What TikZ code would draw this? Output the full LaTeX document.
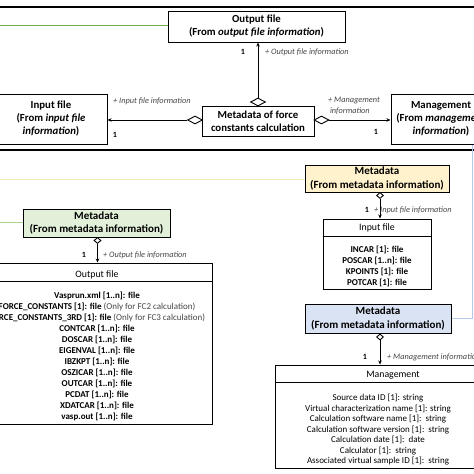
\documentclass[tikz,border=0pt]{standalone}
\usepackage{fontspec}
\setmainfont{Carlito}
\usetikzlibrary{shapes.geometric,arrows.meta}
\definecolor{greenfill}{RGB}{226,239,217}
\definecolor{yellowfill}{RGB}{255,242,204}
\definecolor{bluefill}{RGB}{218,227,243}
\definecolor{greenline}{RGB}{112,173,71}
\definecolor{greenline2}{RGB}{169,209,142}
\definecolor{yellowline}{RGB}{238,236,185}
\definecolor{blueline}{RGB}{180,199,231}
\definecolor{lblgray}{RGB}{70,70,70}
\begin{document}
\begin{tikzpicture}[x=1pt,y=-1pt,
  box/.style={draw, line width=1pt, fill=white, inner sep=1pt, align=center},
  big/.style={font=\fontsize{10.8}{13}\selectfont\bfseries},
  metabig/.style={font=\fontsize{11}{13.5}\selectfont\bfseries},
  hdr/.style={font=\fontsize{9.8}{11}\selectfont, inner sep=0pt, anchor=base},
  itemb/.style={font=\fontsize{9}{11}\selectfont\bfseries, inner sep=0pt, anchor=base},
  itemr/.style={font=\fontsize{9}{11}\selectfont, inner sep=0pt, anchor=base},
  lbl/.style={font=\fontsize{8.3}{10}\selectfont\itshape, text=lblgray, inner sep=0pt, anchor=base west},
  one/.style={font=\fontsize{8}{10}\selectfont\bfseries, inner sep=0pt, anchor=base},
  link/.style={line width=0.9pt, -{Stealth[length=4pt,width=3.5pt]}},
  agg/.style={diamond, draw, fill=white, line width=0.9pt, inner sep=0pt, minimum width=15pt, minimum height=8pt},
  sagg/.style={diamond, draw, fill=white, line width=0.9pt, inner sep=0pt, minimum width=7pt, minimum height=6pt},
  frame/.style={line width=2pt}
]
\clip (0,0) rectangle (474,474);
\fill[white] (0,0) rectangle (474,474);

% ---------- top section ----------
\coordinate (ftl) at (0,7);
\coordinate (ftr) at (474,7);
\coordinate (fbl) at (0,150);
\coordinate (fbr) at (474,150);
\draw[frame] (ftl) -- (ftr);
\draw[frame] (fbl) -- (fbr);

\node[box, big, minimum width=177pt, minimum height=31pt] (outtop) at (256.5,26.5)
  {Output file\\(From \textit{output file information})};
\node[box, big, minimum width=112pt, minimum height=50pt] (intop) at (51,119)
  {Input file\\(From \textit{input file}\\\textit{information})};
\node[box, big, minimum width=100pt, minimum height=50pt] (mgtop) at (441,119)
  {Management\\(From \textit{management}\\\textit{information})};
\node[box, big, minimum width=112pt, minimum height=30pt] (meta) at (258,121)
  {Metadata of force\\constants calculation};

\coordinate (gl0) at (0,25);
\draw[greenline, line width=0.8pt] (gl0) -- (gl0 -| outtop.west);

\node[agg] (d1) at (258,102) {};
\node[agg] (d2) at (195,120) {};
\node[agg] (d3) at (321.5,120) {};
\draw[link] (d1.north) -- (d1.north |- outtop.south);
\draw[link] (d2.west) -- (d2.west -| intop.east);
\draw[link] (d3.east) -- (d3.east -| mgtop.west);

\node[one] (n1) at (243,54) {1};
\node[lbl] (l1) at (265,54) {+ Output file information};
\node[lbl] (l2) at (113,103) {+ Input file information};
\node[one] (n2) at (115,137) {1};
\node[lbl, align=left, anchor=west, font=\fontsize{8.3}{11}\selectfont\itshape] (l3) at (328,106) {+ Management\\\ information};
\node[one] (n3) at (376,134) {1};

% ---------- lower section ----------
\coordinate (yl0) at (0,179);
\coordinate (gl1) at (0,222);

% yellow metadata + input file
\node[box, metabig, fill=yellowfill, minimum width=144pt, minimum height=27pt] (ymeta) at (377,178.5)
  {Metadata\\(From metadata information)};
\draw[yellowline, line width=1pt] (yl0) -- (yl0 -| ymeta.west);
\node[sagg] (d4) at (380,195.5) {};
\node[box, minimum width=108pt, minimum height=70pt] (inbox) at (377,254) {};
\draw[link] (d4.south) -- (d4.south |- inbox.north);
\coordinate (indiv) at (0,236);
\draw[line width=1pt] (indiv -| inbox.west) -- (indiv -| inbox.east);
\node[hdr] (inhdr) at (377,230.5) {Input file};
\foreach [count=\i] \t in {INCAR [1]: file, POSCAR [1..n]: file, KPOINTS [1]: file, POTCAR [1]: file}
  \node[itemb] (ii\i) at (377,{252.5+11*(\i-1)}) {\t};
\node[one] (n4) at (367,212) {1};
\node[lbl] (l4) at (374,212) {+ Input file information};

% green metadata + output file
\node[box, metabig, fill=greenfill, minimum width=147pt, minimum height=28pt] (gmeta) at (96.5,223)
  {Metadata\\(From metadata information)};
\draw[greenline2, line width=1pt] (gl1) -- (gl1 -| gmeta.west);
\node[sagg] (d5) at (97.5,240.5) {};
\node[box, minimum width=230pt, minimum height=161pt] (outbox) at (97,343.5) {};
\draw[link] (d5.south) -- (d5.south |- outbox.north);
\coordinate (outdiv) at (0,281);
\draw[line width=1pt] (outdiv -| outbox.west) -- (outdiv -| outbox.east);
\node[hdr] (outhdr) at (97,277) {Output file};
\foreach [count=\i] \t in {Vasprun.xml [1..n]: file,
  FORCE\_CONSTANTS [1]: file \textmd{\color{lblgray}(Only for FC2 calculation)},
  FORCE\_CONSTANTS\_3RD [1]: file \textmd{\color{lblgray}(Only for FC3 calculation)},
  CONTCAR [1..n]: file, DOSCAR [1..n]: file, EIGENVAL [1..n]: file, IBZKPT [1..n]: file,
  OSZICAR [1..n]: file, OUTCAR [1..n]: file, PCDAT [1..n]: file, XDATCAR [1..n]: file,
  vasp.out [1..n]: file}
  \node[itemb] (oi\i) at (97,{298+11*(\i-1)}) {\t};
\node[one] (n5) at (84,257) {1};
\node[lbl] (l5) at (103,257) {+ Output file information};

% blue metadata + management
\node[box, metabig, fill=bluefill, minimum width=146pt, minimum height=29pt] (bmeta) at (378,318.5)
  {Metadata\\(From metadata information)};
\coordinate (bl1) at (472,145);
\draw[blueline, line width=1pt] (bmeta.east) -- (bmeta.east -| bl1) -- (bl1);
\node[sagg] (d6) at (380,337) {};
\node[box, minimum width=224pt, minimum height=103pt] (mgbox) at (387,416.5) {};
\draw[link] (d6.south) -- (d6.south |- mgbox.north);
\coordinate (mgdiv) at (0,382);
\draw[line width=1pt] (mgdiv -| mgbox.west) -- (mgdiv -| mgbox.east);
\node[hdr] (mghdr) at (393,377) {Management};
\foreach [count=\i] \t in {Source data ID [1]: string, Virtual characterization name [1]: string,
  Calculation software name [1]:\ \ string, Calculation software version [1]:\ \ string,
  Calculation date [1]:\ \ date, Calculator [1]:\ \ string, Associated virtual sample ID [1]:\ \ string}
  \node[itemr] (mi\i) at (378,{400.5+10.5*(\i-1)}) {\t};
\node[one] (n6) at (365,359) {1};
\node[lbl] (l6) at (387,359) {+ Management information};
\end{tikzpicture}
\end{document}
